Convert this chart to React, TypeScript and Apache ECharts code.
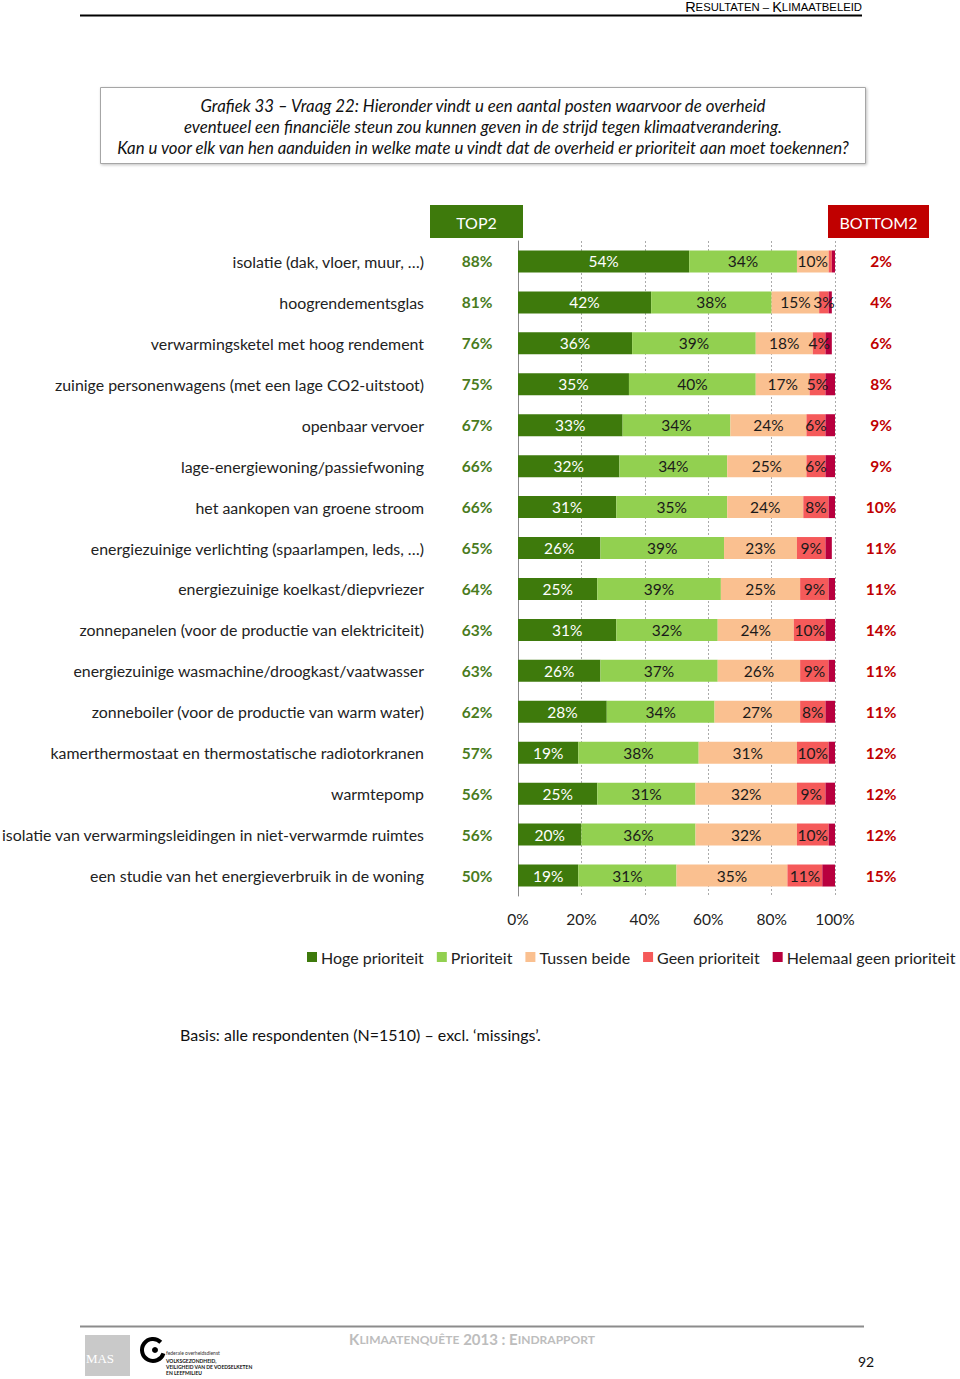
import React, { useEffect, useRef } from "react";
import * as echarts from "echarts";

const categories = [
  "isolatie (dak, vloer, muur, …)",
  "hoogrendementsglas",
  "verwarmingsketel met hoog rendement",
  "zuinige personenwagens (met een lage CO2-uitstoot)",
  "openbaar vervoer",
  "lage-energiewoning/passiefwoning",
  "het aankopen van groene stroom",
  "energiezuinige verlichting (spaarlampen, leds, …)",
  "energiezuinige koelkast/diepvriezer",
  "zonnepanelen (voor de productie van elektriciteit)",
  "energiezuinige wasmachine/droogkast/vaatwasser",
  "zonneboiler (voor de productie van warm water)",
  "kamerthermostaat en thermostatische radiotorkranen",
  "warmtepomp",
  "isolatie van verwarmingsleidingen in niet-verwarmde ruimtes",
  "een studie van het energieverbruik in de woning",
];

const hoge = [54, 42, 36, 35, 33, 32, 31, 26, 25, 31, 26, 28, 19, 25, 20, 19];
const prioriteit = [34, 38, 39, 40, 34, 34, 35, 39, 39, 32, 37, 34, 38, 31, 36, 31];
const tussen = [10, 15, 18, 17, 24, 25, 24, 23, 25, 24, 26, 27, 31, 32, 32, 35];
const geen = [1, 3, 4, 5, 6, 6, 8, 9, 9, 10, 9, 8, 10, 9, 10, 11];
const helemaal = [1, 1, 2, 3, 3, 3, 2, 2, 2, 4, 2, 3, 2, 3, 2, 4];

const top2 = [88, 81, 76, 75, 67, 66, 66, 65, 64, 63, 63, 62, 57, 56, 56, 50];
const bottom2 = [2, 4, 6, 8, 9, 9, 10, 11, 11, 14, 11, 11, 12, 12, 12, 15];

const seriesNames = ["Hoge prioriteit", "Prioriteit", "Tussen beide", "Geen prioriteit", "Helemaal geen prioriteit"];
const xTicks = [0, 20, 40, 60, 80, 100];

const FONT = 'Lato, "Liberation Sans", sans-serif';
const colors = ["#3e7a0c", "#92d050", "#fac090", "#f55a5a", "#b8003e"];

export default function App() {
  const ref = useRef<HTMLDivElement>(null);
  useEffect(() => {
    if (!ref.current) return;
    const chart = echarts.init(ref.current, null, { renderer: "svg" });
    const values = [hoge, prioriteit, tussen, geen, helemaal];
    const series = values.map((v, i) => ({
      name: seriesNames[i],
      type: "bar",
      stack: "total",
      barWidth: 22,
      yAxisIndex: 0,
      itemStyle: { color: colors[i] },
      label: {
        show: i < 4,
        position: "inside",
        formatter: (p: any) => (p.value >= 2 ? p.value + "%" : ""),
        fontSize: 15.5,
        fontFamily: FONT,
        color: i === 0 ? "#ffffff" : "#1a1a1a",
      },
      data: v,
    }));

    const txt = (x: number, y: number, text: string, opts: any = {}) => ({
      type: "text",
      x,
      y,
      silent: true,
      style: {
        text,
        fill: opts.fill || "#111",
        fontSize: opts.fontSize || 15,
        fontFamily: opts.fontFamily || FONT,
        fontStyle: opts.fontStyle || "normal",
        fontWeight: opts.fontWeight || "normal",
        align: opts.align || "left",
        textAlign: opts.align || "left",
        verticalAlign: "middle",
        textVerticalAlign: "middle",
        rich: opts.rich,
      },
    });

    const scRich = (big: number, small: number, color: string, family: string, weight = "normal") => ({
      a: { fontSize: big, fill: color, color, fontFamily: family, fontWeight: weight },
      b: { fontSize: small, fill: color, color, fontFamily: family, fontWeight: weight },
    });

    chart.setOption({
      animation: false,
      textStyle: { fontFamily: FONT },
      grid: { left: 518, width: 317, top: 241, height: 655, containLabel: false, outerBoundsMode: "none" },
      legend: {
        left: 302,
        top: 944,
        width: 680,
        icon: "rect",
        itemWidth: 10,
        itemHeight: 10,
        itemGap: 13,
        textStyle: { fontSize: 16, color: "#222", fontFamily: FONT, padding: [0, 0, 0, -1] },
        data: seriesNames,
      },
      xAxis: {
        type: "value",
        min: 0,
        max: 100,
        interval: 20,
        axisLine: { show: false },
        axisTick: { show: false },
        splitLine: { show: true, lineStyle: { color: "#aaaaaa", type: [2, 2], width: 1 } },
        axisLabel: {
          formatter: (v: number) => (xTicks.includes(v) ? v + "%" : ""),
          fontSize: 15.5,
          color: "#222",
          margin: 15,
          fontFamily: FONT,
        },
      },
      yAxis: [
        {
          type: "category",
          data: categories,
          inverse: true,
          axisLine: { show: true, lineStyle: { color: "#888", width: 1 } },
          axisTick: { show: false },
          axisLabel: { fontSize: 15.9, color: "#222", margin: 94, fontFamily: FONT },
        },
        {
          type: "category",
          data: top2.map((v) => v + "%"),
          inverse: true,
          position: "left",
          axisLine: { show: false },
          axisTick: { show: false },
          axisLabel: {
            fontSize: 15.5,
            color: "#4a7c1e",
            fontWeight: "bold",
            margin: 41,
            align: "center",
            fontFamily: FONT,
          },
        },
        {
          type: "category",
          data: bottom2.map((v) => v + "%"),
          inverse: true,
          position: "right",
          axisLine: { show: false },
          axisTick: { show: false },
          axisLabel: {
            fontSize: 15.5,
            color: "#c00000",
            fontWeight: "bold",
            margin: 46,
            align: "center",
            fontFamily: FONT,
          },
        },
      ],
      series,
      graphic: [
        // header
        txt(862, 7, "{a|R}{b|ESULTATEN – }{a|K}{b|LIMAATBELEID}", {
          align: "right",
          rich: scRich(14.5, 11.3, "#000", '"Liberation Sans", Arial, sans-serif'),
        }),
        { type: "line", silent: true, shape: { x1: 80, y1: 15.5, x2: 862, y2: 15.5 }, style: { stroke: "#000", lineWidth: 2 } },
        // title box
        {
          type: "rect",
          silent: true,
          shape: { x: 100.5, y: 87.5, width: 765, height: 76 },
          style: { fill: "#fff", stroke: "#a6a6a6", lineWidth: 1, shadowBlur: 3, shadowColor: "rgba(0,0,0,0.25)", shadowOffsetX: 1, shadowOffsetY: 1 },
        },
        txt(483, 105, "Grafiek 33 – Vraag 22: Hieronder vindt u een aantal posten waarvoor de overheid", { align: "center", fontStyle: "italic", fontSize: 16.8 }),
        txt(483, 126, "eventueel een financiële steun zou kunnen geven in de strijd tegen klimaatverandering.", { align: "center", fontStyle: "italic", fontSize: 16.8 }),
        txt(483, 147, "Kan u voor elk van hen aanduiden in welke mate u vindt dat de overheid er prioriteit aan moet toekennen?", { align: "center", fontStyle: "italic", fontSize: 16.8 }),
        // TOP2 / BOTTOM2 headers
        { type: "rect", silent: true, shape: { x: 430, y: 205, width: 93, height: 33 }, style: { fill: "#3e7a0c" } },
        txt(476.5, 222, "TOP2", { align: "center", fill: "#ffffff", fontSize: 16 }),
        { type: "rect", silent: true, shape: { x: 828, y: 205, width: 101, height: 33 }, style: { fill: "#c00000" } },
        txt(878.5, 222, "BOTTOM2", { align: "center", fill: "#ffffff", fontSize: 16 }),
        // basis
        txt(180, 1034, "Basis: alle respondenten (N=1510) – excl. ‘missings’.", { fontSize: 16, fill: "#111" }),
        // footer
        { type: "line", silent: true, shape: { x1: 80, y1: 1326.5, x2: 864, y2: 1326.5 }, style: { stroke: "#8c8c8c", lineWidth: 2 } },
        txt(472, 1339, "{a|K}{b|LIMAATENQUÊTE} {a|2013 : E}{b|INDRAPPORT}", {
          align: "center",
          rich: scRich(15, 12, "#bdbdbd", FONT, "bold"),
        }),
        txt(866, 1361, "92", { align: "center", fontSize: 14, fill: "#111" }),
        // logos
        { type: "rect", silent: true, shape: { x: 85, y: 1335, width: 45, height: 41 }, style: { fill: "#c9c9c9" } },
        txt(100, 1358, "MAS", { align: "center", fontSize: 13, fill: "#ffffff", fontFamily: '"Liberation Serif", serif' }),
        { type: "arc", silent: true, shape: { cx: 153, cy: 1350, r: 11, startAngle: Math.PI * 0.1, endAngle: Math.PI * 1.75 }, style: { stroke: "#000", lineWidth: 4, fill: "none" } },
        { type: "circle", silent: true, shape: { cx: 155, cy: 1350, r: 3 }, style: { fill: "#000" } },
        txt(166, 1353, "federale overheidsdienst", { fontSize: 5, fill: "#333" }),
        txt(166, 1361, "VOLKSGEZONDHEID,", { fontSize: 5, fill: "#111", fontWeight: "bold" }),
        txt(166, 1367, "VEILIGHEID VAN DE VOEDSELKETEN", { fontSize: 5, fill: "#111", fontWeight: "bold" }),
        txt(166, 1373, "EN LEEFMILIEU", { fontSize: 5, fill: "#111", fontWeight: "bold" }),
      ],
    });
    return () => chart.dispose();
  }, []);
  return (
    <div
      ref={ref}
      style={{ position: "absolute", left: 0, top: 0, width: 960, height: 1379, background: "#fff" }}
    />
  );
}
